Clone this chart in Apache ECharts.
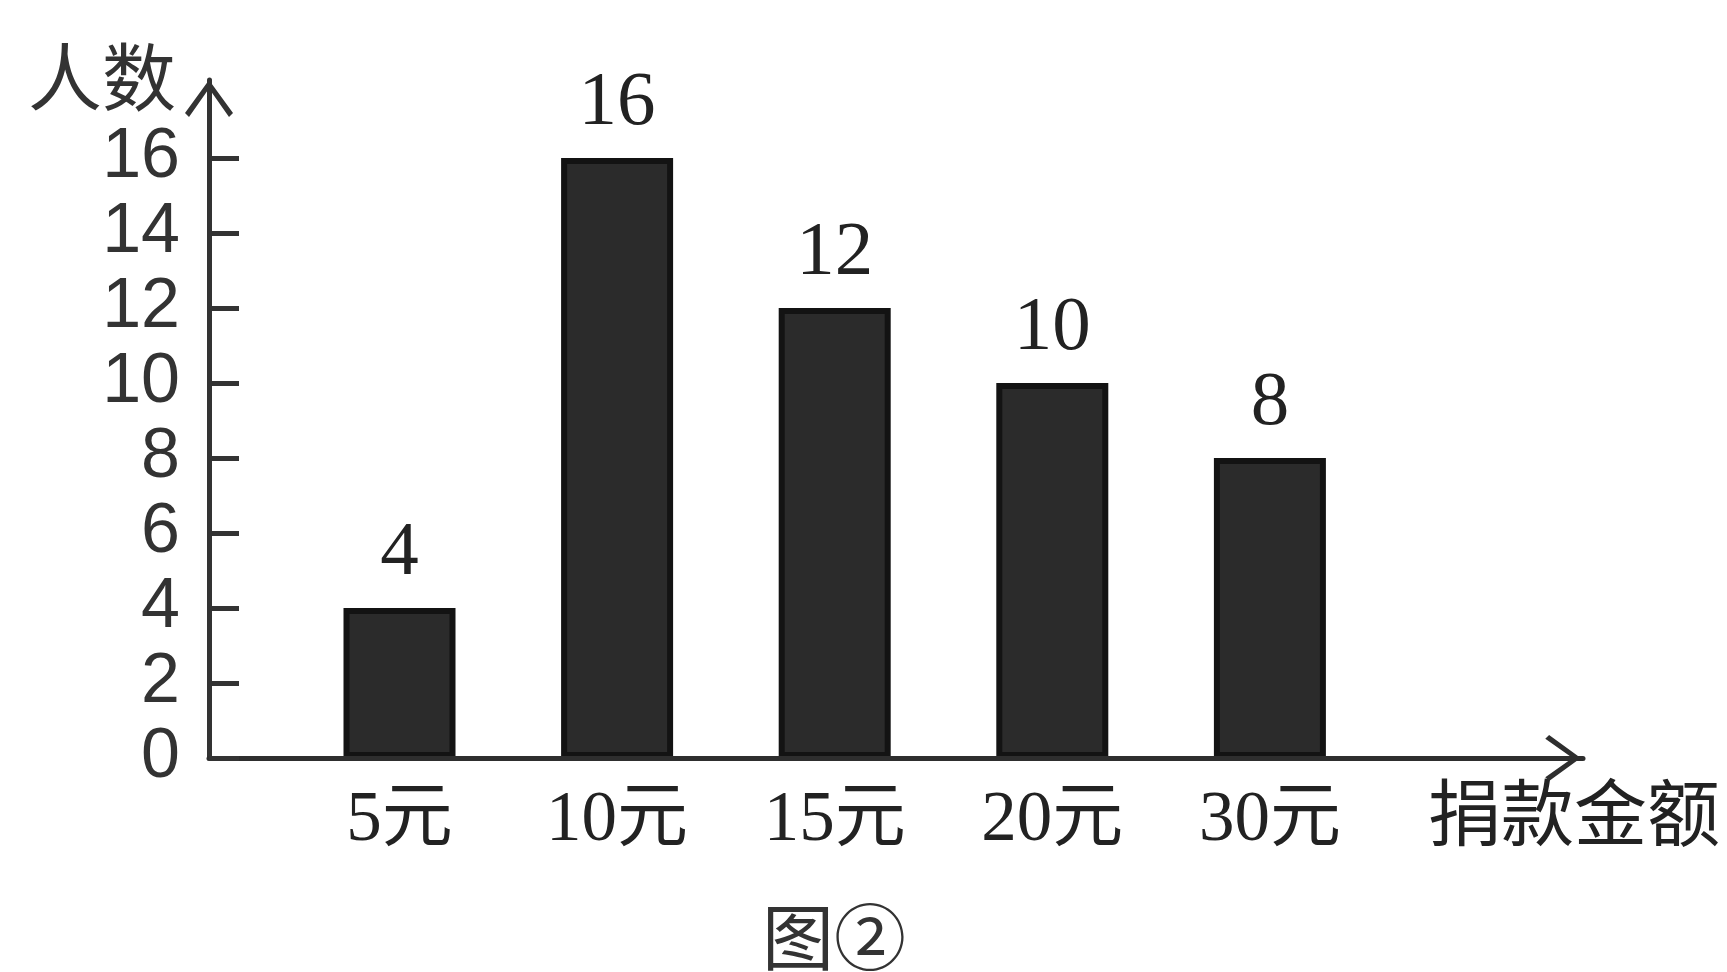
<!DOCTYPE html>
<html>
<head>
<meta charset="utf-8">
<script src="https://cdn.jsdelivr.net/npm/echarts@6/dist/echarts.min.js"></script>
<style>
html,body{margin:0;padding:0;background:#fff;}
#chart{width:1727px;height:972px;}
</style>
</head>
<body>
<div id="chart"></div>
<script>
// ---- data ----
const categories = ['5元', '10元', '15元', '20元', '30元'];
const counts = [4, 16, 12, 10, 8];
const yTickValues = [0, 2, 4, 6, 8, 10, 12, 14, 16];
const yAxisName = '人数';
const xAxisName = '捐款金额';
const caption = '图②';

const YMAX = 18.08;
const chevron = 'path://M24,0 L48,33 L44,37 L24,8.5 L4,37 L0,33 Z';
const serif = "'Liberation Serif', 'Times New Roman', 'Noto Sans CJK SC', serif";
const cjk = "'Noto Sans CJK SC', sans-serif";

const chart = echarts.init(document.getElementById('chart'), null, {renderer: 'canvas'});
chart.setOption({
  backgroundColor: '#ffffff',
  animation: false,
  title: {
    text: caption,
    left: 757,
    top: 896,
    textStyle: {fontFamily: cjk, fontSize: 72, fontWeight: 'normal', color: '#333'}
  },
  grid: [
    {left: 209, top: 80, width: 1374, bottom: 214, containLabel: false},
    {left: 290.7, top: 80, width: 1088, bottom: 214, containLabel: false}
  ],
  xAxis: [
    {
      gridIndex: 0, type: 'value', min: 0, max: 1, z: 5,
      axisLine: {show: true, lineStyle: {color: '#2e2e2e', width: 5},
        symbol: ['none', chevron], symbolSize: [46, 40], symbolOffset: [0, -20]},
      axisTick: {show: false}, axisLabel: {show: false}, splitLine: {show: false},
      name: xAxisName, nameLocation: 'end', nameGap: 137,
      nameTextStyle: {fontFamily: cjk, fontSize: 73, color: '#222', align: 'right', verticalAlign: 'top', padding: [18, 0, 0, 0]}
    },
    {
      gridIndex: 1, type: 'category', data: categories, boundaryGap: true,
      axisLine: {show: false}, axisTick: {show: false}, splitLine: {show: false},
      axisLabel: {show: true, margin: 28, fontFamily: serif, fontSize: 71, color: '#222'}
    }
  ],
  yAxis: [
    {
      gridIndex: 0, type: 'value', min: 0, max: YMAX, interval: 2, z: 5,
      axisLine: {show: true, lineStyle: {color: '#333', width: 5},
        symbol: ['none', chevron], symbolSize: [48, 37], symbolOffset: [0, -18.5]},
      axisTick: {show: true, inside: true, length: 30, lineStyle: {color: '#333', width: 5}, customValues: yTickValues},
      axisLabel: {show: true, margin: 29, fontFamily: "'Liberation Sans', Arial, sans-serif", fontSize: 70, color: '#333', customValues: yTickValues},
      splitLine: {show: false},
      name: yAxisName, nameLocation: 'end', nameGap: 3,
      nameTextStyle: {fontFamily: cjk, fontSize: 74, color: '#333', align: 'right', verticalAlign: 'middle', padding: [0, 33, 0, 0]}
    },
    {
      gridIndex: 1, type: 'value', min: 0, max: YMAX, show: false,
      splitLine: {show: false}
    }
  ],
  series: [{
    type: 'bar',
    xAxisIndex: 1, yAxisIndex: 1,
    data: counts,
    barWidth: 112,
    itemStyle: {color: '#2b2b2b', borderColor: '#131313', borderWidth: 6},
    label: {show: true, position: 'top', distance: 16, fontFamily: serif, fontSize: 77, color: '#222'}
  }]
});
</script>
</body>
</html>
